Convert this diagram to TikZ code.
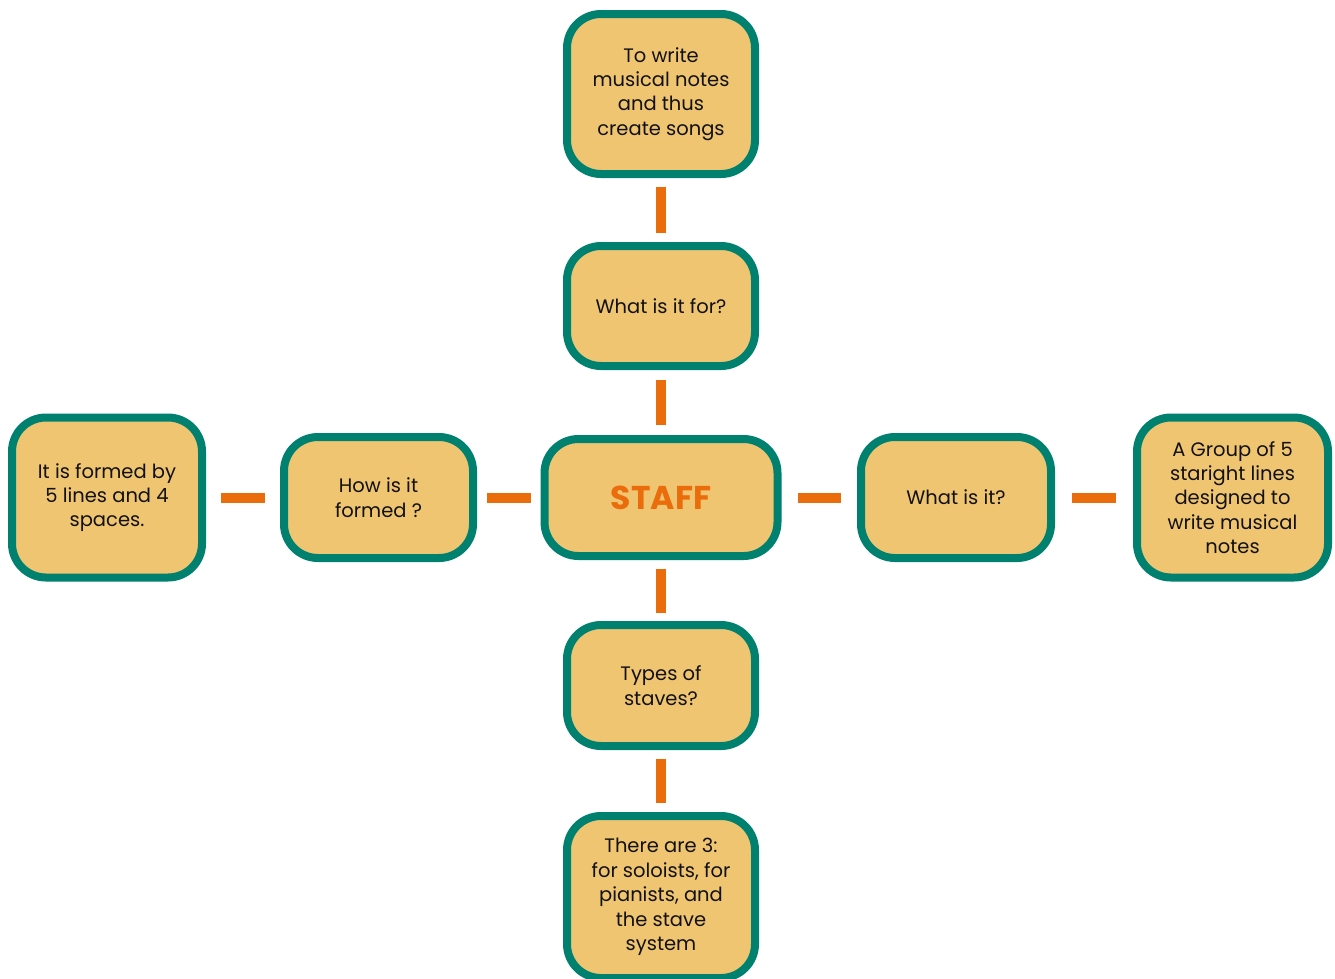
\documentclass[tikz,border=0pt]{standalone}
\usepackage{fontspec}
\setmainfont{Poppins}
\definecolor{boxfill}{HTML}{F0C572}
\definecolor{boxedge}{HTML}{00806F}
\definecolor{linkc}{HTML}{EB6C0A}
\definecolor{txt}{HTML}{111111}
\begin{document}
\begin{tikzpicture}[x=1pt,y=-1pt,
  card/.style={draw=boxedge,fill=boxfill,line width=8pt,rounded corners=34pt,
    inner sep=0pt,outer sep=0pt,align=center,text=txt,
    font=\fontsize{19.5}{24.4}\selectfont},
  link/.style={draw=linkc,line width=10pt,line cap=butt,shorten <=#1,shorten >=#1}]
\useasboundingbox (0,0) rectangle (1335,978);
\node[card,minimum width=188pt,minimum height=160pt] (top) at (661,94) {To write\\musical notes\\and thus\\create songs};
\node[card,minimum width=188pt,minimum height=120pt] (for) at (661,306) {What is it for?};
\node[card,minimum width=233pt,minimum height=117pt] (staff) at (661,497.5) {\fontsize{33}{38}\selectfont\bfseries\color{linkc}STAFF};
\node[card,minimum width=189pt,minimum height=121pt] (how) at (378.5,497.5) {How is it\\formed ?};
\node[card,minimum width=190pt,minimum height=160pt] (left) at (107,497.5) {It is formed by\\5 lines and 4\\spaces.};
\node[card,minimum width=190pt,minimum height=121pt] (what) at (956,497.5) {What is it?};
\node[card,minimum width=191pt,minimum height=160pt] (right) at (1232.5,497.5) {A Group of 5\\staright lines\\designed to\\write musical\\notes};
\node[card,minimum width=188pt,minimum height=121pt] (types) at (661,685.5) {Types of\\staves?};
\node[card,minimum width=188pt,minimum height=162pt] (bot) at (661,897) {There are 3:\\for soloists, for\\pianists, and\\the stave\\system};
\draw[link=13pt] (top.south) -- (for.north);
\draw[link=14pt] (for.south) -- (staff.north);
\draw[link=12.5pt] (staff.south) -- (types.north);
\draw[link=13pt] (types.south) -- (bot.north);
\draw[link=19pt] (left.east) -- (how.west);
\draw[link=13.5pt] (how.east) -- (staff.west);
\draw[link=20pt] (staff.east) -- (what.west);
\draw[link=21pt] (what.east) -- (right.west);
\end{tikzpicture}
\end{document}
